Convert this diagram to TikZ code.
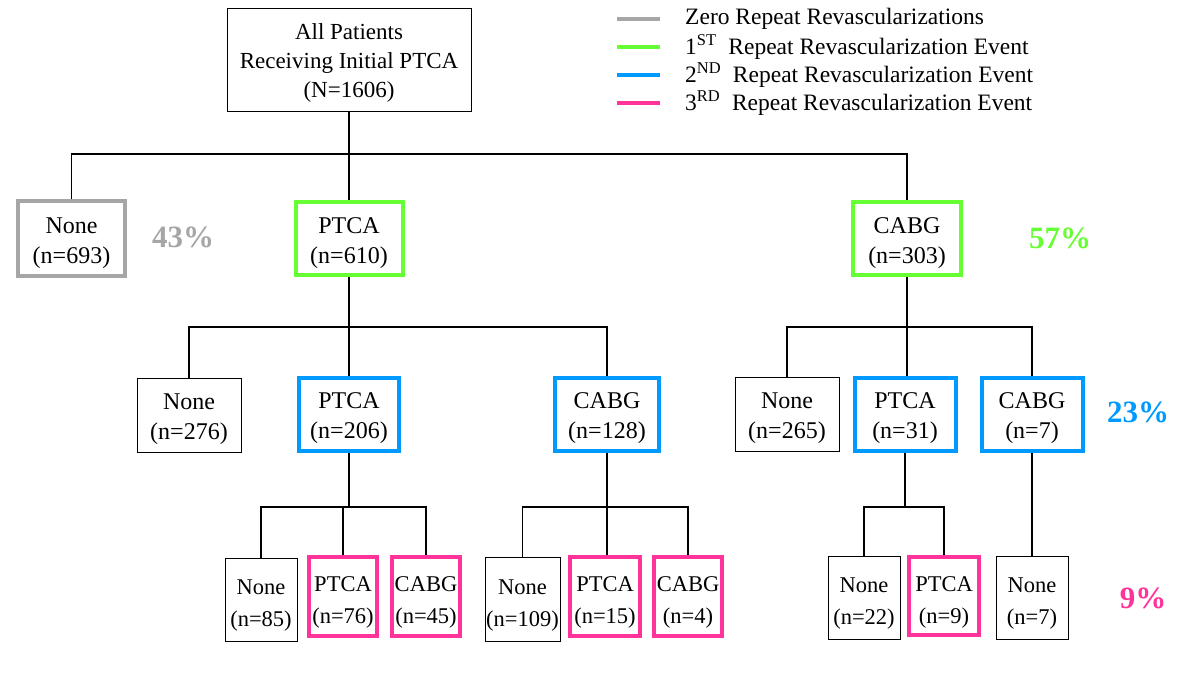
\documentclass[tikz,border=0pt]{standalone}
\usepackage{fontspec}
\setmainfont{Liberation Serif}
\definecolor{zerogray}{HTML}{A6A6A6}
\definecolor{firstgreen}{HTML}{66FF33}
\definecolor{secondblue}{HTML}{0099FF}
\definecolor{thirdpink}{HTML}{FF3399}
% invisible strut that pushes a two-line label down inside its box
\newcommand\padtop[1]{\rule{0pt}{#1}}
\begin{document}
\begin{tikzpicture}[x=1pt,y=-1pt,
  box/.style={draw=black,line width=1pt,inner sep=0pt,align=center,
    font=\fontsize{24}{30}\selectfont},
  small/.style={box,font=\fontsize{22.5}{32}\selectfont},
  thickbox/.style={box,line width=4pt,draw=#1},
  thicksmall/.style={small,line width=4pt,draw=#1},
  link/.style={line width=1.4pt,black},
  pct/.style={font=\fontsize{31}{33}\selectfont\bfseries,text=#1},
  key/.style={line width=4.5pt,draw=#1},
  keytext/.style={anchor=west,font=\fontsize{23.5}{26}\selectfont,inner sep=0pt}]
\useasboundingbox (0,0) rectangle (1178,678);

% root
\node[box,minimum width=244pt,minimum height=103pt,font=\fontsize{23}{29}\selectfont] (root) at (349,59.5)
  {\padtop{22pt}All Patients\\Receiving Initial PTCA\\(N=1606)};

% legend
\foreach \c/\yy/\nm in {zerogray/19/a,firstgreen/47/b,secondblue/75/c,thirdpink/103/d}{
  \coordinate (k\nm l) at (617,\yy);
  \coordinate (k\nm r) at (660,\yy);
  \draw[key=\c] (k\nm l) -- (k\nm r);
}
\node[keytext] (ta) at (685,19) {Zero Repeat Revascularizations};
\node[keytext] (tb) at (685,47) {1\textsuperscript{ST}\ \ Repeat Revascularization Event};
\node[keytext] (tc) at (685,75) {2\textsuperscript{ND}\ \ Repeat Revascularization Event};
\node[keytext] (td) at (685,103) {3\textsuperscript{RD}\ \ Repeat Revascularization Event};

% first level
\node[thickbox=zerogray,minimum width=107pt,minimum height=75pt] (aNone) at (71.5,238) {\padtop{26pt}None\\(n=693)};
\node[thickbox=firstgreen,minimum width=107pt,minimum height=73pt] (aPTCA) at (349,238.5) {\padtop{26pt}PTCA\\(n=610)};
\node[thickbox=firstgreen,minimum width=108pt,minimum height=73pt] (aCABG) at (907,238.5) {\padtop{26pt}CABG\\(n=303)};
\node[pct=zerogray] (p43) at (183,237) {43\%};
\node[pct=firstgreen] (p57) at (1060,238) {57\%};

% second level
\node[box,minimum width=104pt,minimum height=74pt] (bNone1) at (189,415) {\padtop{24pt}None\\(n=276)};
\node[thickbox=secondblue,minimum width=100pt,minimum height=73pt] (bPTCA1) at (349,414.5) {\padtop{24pt}PTCA\\(n=206)};
\node[thickbox=secondblue,minimum width=104pt,minimum height=73pt] (bCABG1) at (607,414.5) {\padtop{24pt}CABG\\(n=128)};
\node[box,minimum width=104pt,minimum height=74pt] (bNone2) at (787,414) {\padtop{24pt}None\\(n=265)};
\node[thickbox=secondblue,minimum width=101pt,minimum height=73pt] (bPTCA2) at (905,414.5) {\padtop{24pt}PTCA\\(n=31)};
\node[thickbox=secondblue,minimum width=101pt,minimum height=73pt] (bCABG2) at (1032,414.5) {\padtop{24pt}CABG\\(n=7)};
\node[pct=secondblue] (p23) at (1138,412) {23\%};

% third level
\node[small,minimum width=72pt,minimum height=83pt] (cNone1) at (261,599.5) {\padtop{27pt}None\\(n=85)};
\node[thicksmall=thirdpink,minimum width=68pt,minimum height=79pt] (cPTCA1) at (343,596.5) {\padtop{27pt}PTCA\\(n=76)};
\node[thicksmall=thirdpink,minimum width=68pt,minimum height=79pt] (cCABG1) at (426,596.5) {\padtop{27pt}CABG\\(n=45)};
\node[small,minimum width=75pt,minimum height=84pt] (cNone2) at (522.5,599) {\padtop{27pt}None\\(n=109)};
\node[thicksmall=thirdpink,minimum width=70pt,minimum height=79pt] (cPTCA2) at (605,596.5) {\padtop{27pt}PTCA\\(n=15)};
\node[thicksmall=thirdpink,minimum width=68pt,minimum height=79pt] (cCABG2) at (688,596.5) {\padtop{27pt}CABG\\(n=4)};
\node[small,minimum width=72pt,minimum height=83pt] (cNone3) at (864,597.5) {\padtop{27pt}None\\(n=22)};
\node[thicksmall=thirdpink,minimum width=70pt,minimum height=78pt] (cPTCA3) at (944,596) {\padtop{27pt}PTCA\\(n=9)};
\node[small,minimum width=72pt,minimum height=83pt] (cNone4) at (1032,597.5) {\padtop{27pt}None\\(n=7)};
\node[pct=thirdpink] (p9) at (1143,598) {9\%};

% junctions of the tree
\coordinate (j0) at (349,154);
\coordinate (j1) at (349,327);
\coordinate (j2) at (907,327);
\coordinate (j3) at (349,507);
\coordinate (j4) at (607,507);
\coordinate (j5) at (905,507);

% connectors
\draw[link] (root.south) -- (j0);
\draw[link] (aNone.north) -- (aNone.north |- j0) -- (aCABG.north |- j0) -- (aCABG.north);
\draw[link] (j0) -- (aPTCA.north);

\draw[link] (aPTCA.south) -- (j1);
\draw[link] (bNone1.north) -- (bNone1.north |- j1) -- (bCABG1.north |- j1) -- (bCABG1.north);
\draw[link] (j1) -- (bPTCA1.north);

\draw[link] (aCABG.south) -- (j2);
\draw[link] (bNone2.north) -- (bNone2.north |- j2) -- (bCABG2.north |- j2) -- (bCABG2.north);
\draw[link] (j2) -- (j2 |- bPTCA2.north);

\draw[link] (bPTCA1.south) -- (j3);
\draw[link] (cNone1.north) -- (cNone1.north |- j3) -- (cCABG1.north |- j3) -- (cCABG1.north);
\draw[link] (cPTCA1.north |- j3) -- (cPTCA1.north);

\draw[link] (bCABG1.south) -- (j4);
\draw[link] (cNone2.north) -- (cNone2.north |- j4) -- (cCABG2.north |- j4) -- (cCABG2.north);
\draw[link] (j4) -- (j4 |- cPTCA2.north);

\draw[link] (bPTCA2.south) -- (j5);
\draw[link] (cNone3.north) -- (cNone3.north |- j5) -- (cPTCA3.north |- j5) -- (cPTCA3.north);

\draw[link] (bCABG2.south) -- (cNone4.north);
\end{tikzpicture}
\end{document}
